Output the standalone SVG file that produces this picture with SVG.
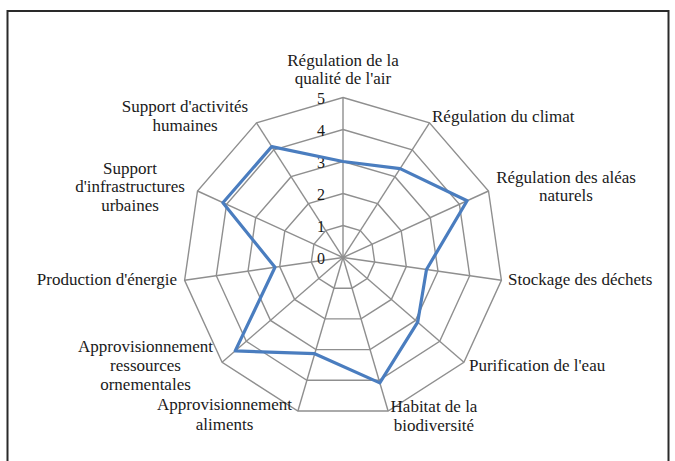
<svg xmlns="http://www.w3.org/2000/svg" width="675" height="461" viewBox="0 0 675 461">
<style>
.lbl{font-family:"Liberation Serif","Times New Roman",serif;font-size:17px;fill:#1a1a1a}
.num{font-family:"Liberation Serif","Times New Roman",serif;font-size:16px;fill:#1a1a1a;text-anchor:end}
.c{text-anchor:middle}
.ring{fill:none;stroke:#8f8f8f;stroke-width:1.4}
.axis{stroke:#8f8f8f;stroke-width:1.4}
.data{fill:none;stroke:#4a7dbf;stroke-width:3.2;stroke-linejoin:round}
</style>
<rect x="0" y="0" width="675" height="461" fill="#ffffff"/>
<rect x="7.5" y="11" width="661" height="462" fill="none" stroke="#2a2a2a" stroke-width="2"/>
<g id="grid">
<polygon class="ring" points="343,225.5 360.3,230.6 372.1,244.2 374.7,262.1 367.2,278.5 352,288.2 334,288.2 318.8,278.5 311.3,262.1 313.9,244.2 325.7,230.6"/>
<polygon class="ring" points="343,193.5 377.6,203.7 401.2,230.9 406.3,266.6 391.4,299.4 361,318.9 325,318.9 294.6,299.4 279.7,266.6 284.8,230.9 308.4,203.7"/>
<polygon class="ring" points="343,161.5 394.9,176.7 430.3,217.6 438,271.2 415.5,320.4 370,349.6 316,349.6 270.5,320.4 248,271.2 255.7,217.6 291.1,176.7"/>
<polygon class="ring" points="343,129.5 412.2,149.8 459.4,204.3 469.7,275.7 439.7,341.3 379.1,380.3 306.9,380.3 246.3,341.3 216.3,275.7 226.6,204.3 273.8,149.8"/>
<polygon class="ring" points="343,97.5 429.5,122.9 488.5,191 501.4,280.3 463.9,362.3 388.1,411 297.9,411 222.1,362.3 184.6,280.3 197.5,191 256.5,122.9"/>
</g>
<g id="connectors">
<line class="axis" x1="343" y1="257.5" x2="343" y2="97.5"/>
<line class="axis" x1="343" y1="257.5" x2="429.5" y2="122.9"/>
<line class="axis" x1="343" y1="257.5" x2="488.5" y2="191"/>
<line class="axis" x1="343" y1="257.5" x2="501.4" y2="280.3"/>
<line class="axis" x1="343" y1="257.5" x2="463.9" y2="362.3"/>
<line class="axis" x1="343" y1="257.5" x2="388.1" y2="411"/>
<line class="axis" x1="343" y1="257.5" x2="297.9" y2="411"/>
<line class="axis" x1="343" y1="257.5" x2="222.1" y2="362.3"/>
<line class="axis" x1="343" y1="257.5" x2="184.6" y2="280.3"/>
<line class="axis" x1="343" y1="257.5" x2="197.5" y2="191"/>
<line class="axis" x1="343" y1="257.5" x2="256.5" y2="122.9"/>
</g>
<g id="scale">
<text class="num" x="325" y="104">5</text>
<text class="num" x="325" y="136">4</text>
<text class="num" x="325" y="168">3</text>
<text class="num" x="325" y="200">2</text>
<text class="num" x="325" y="232">1</text>
<text class="num" x="325" y="264">0</text>
</g>
<g id="series">
<polygon class="data" points="343,161.5 400.1,168.6 467.1,200.8 426.5,269.5 417.7,322.2 379.8,382.9 314.7,353.7 235.2,350.9 275,267.3 222.9,202.7 271.7,146.6"/>
</g>
<g id="n-air"><text class="lbl c" x="343" y="66">Régulation de la</text><text class="lbl c" x="343" y="84">qualité de l'air</text></g>
<g id="n-climat"><text class="lbl" x="432" y="122">Régulation du climat</text></g>
<g id="n-aleas"><text class="lbl c" x="566" y="183">Régulation des aléas</text><text class="lbl c" x="566" y="201">naturels</text></g>
<g id="n-dechets"><text class="lbl" x="508" y="285">Stockage des déchets</text></g>
<g id="n-eau"><text class="lbl" x="469" y="371">Purification de l'eau</text></g>
<g id="n-habitat"><text class="lbl c" x="434" y="412">Habitat de la</text><text class="lbl c" x="434" y="431">biodiversité</text></g>
<g id="n-aliments"><text class="lbl c" x="224.5" y="410">Approvisionnement</text><text class="lbl c" x="224.5" y="430">aliments</text></g>
<g id="n-ornement"><text class="lbl c" x="145.5" y="352">Approvisionnement</text><text class="lbl c" x="145.5" y="371">ressources</text><text class="lbl c" x="145.5" y="390">ornementales</text></g>
<g id="n-energie"><text class="lbl" x="177" y="285" text-anchor="end">Production d'énergie</text></g>
<g id="n-infra"><text class="lbl c" x="130" y="174">Support</text><text class="lbl c" x="130" y="192">d'infrastructures</text><text class="lbl c" x="130" y="211">urbaines</text></g>
<g id="n-activites"><text class="lbl c" x="185" y="112">Support d'activités</text><text class="lbl c" x="185" y="131">humaines</text></g>
</svg>
